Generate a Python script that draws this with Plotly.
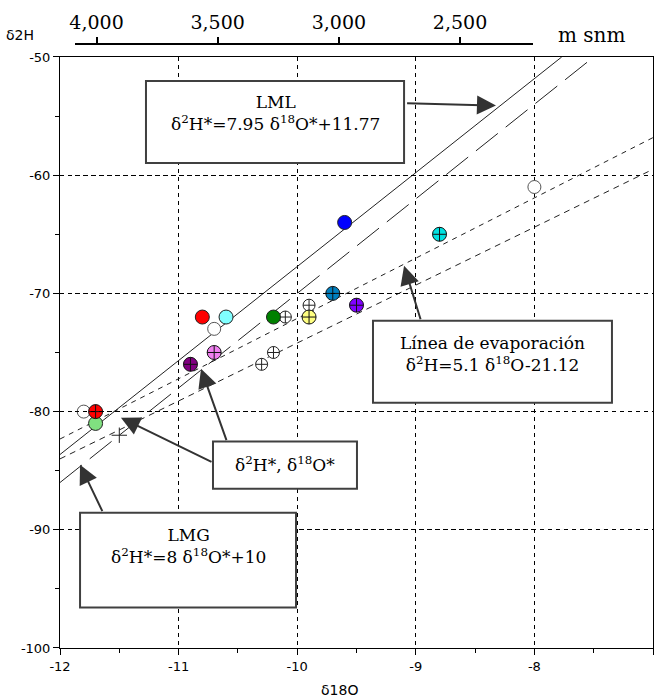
import plotly.graph_objects as go

# ---- axis extents -------------------------------------------------------
X_RANGE = [-12, -7]
Y_RANGE = [-100, -50]
x_ticks = [-12, -11, -10, -9, -8, -7]
y_ticks = [-100, -90, -80, -70, -60, -50]

# ---- altitude scale (top axis, m snm) -------------------------------------
alt_ticks = [4000, 3500, 3000, 2500]
alt_o18_span = [-11.874, -8.013]          # δ18O interval covered by the altitude bar
ALT_REF, ALT_REF_O18, ALT_GRAD = 4000.0, -11.692, -489.4   # m per ‰


def altitude(o18):
    return ALT_REF + ALT_GRAD * (o18 - ALT_REF_O18)


# ---- samples --------------------------------------------------------------
# filled circles
filled_o18 = [-10.8, -10.6, -10.2, -9.6, -11.7]
filled_h2 = [-72, -72, -72, -64, -81]
filled_colors = ["#FF0000", "#80FFFF", "#008000", "#0000FF", "#80E080"]

# filled circles with cross (corrected values δ2H*, δ18O*)
crossed_o18 = [-11.7, -10.9, -10.7, -9.9, -9.7, -9.5, -8.8]
crossed_h2 = [-80, -76, -75, -72, -70, -71, -65]
crossed_colors = ["#FF0000", "#800080", "#F080F0", "#FFFF80", "#0080C0", "#8000FF", "#00E0E0"]

# open circles
open_o18 = [-11.8, -10.7, -8.0]
open_h2 = [-80, -73, -61]

# open circles with cross
open_crossed_o18 = [-10.1, -9.9, -10.3, -10.2]
open_crossed_h2 = [-72, -71, -76, -75]

plus_o18 = [-11.5]
plus_h2 = [-82]

# ---- regression lines: (slope, intercept) ----------------------------------
lml = (7.95, 11.77)      # línea meteórica local
lmg = (8.0, 10.0)        # línea meteórica global
evap = (5.1, -21.12)     # línea de evaporación
star = (4.9, -25.2)      # valores corregidos δ2H*, δ18O*


def line_xy(coef):
    m, b = coef
    x0 = X_RANGE[0]
    x1 = min(X_RANGE[1], (Y_RANGE[1] - b) / m)
    return [x0, x1], [m * x0 + b, m * x1 + b]


fig = go.Figure()

line_styles = [
    (lml, "solid"),
    (lmg, "28px,10px"),
    (evap, "5px,5px"),
    (star, "6px,5px"),
]
for coef, dash in line_styles:
    lx, ly = line_xy(coef)
    fig.add_trace(go.Scatter(x=lx, y=ly, mode="lines",
                             line=dict(color="#222222", width=1, dash=dash),
                             hoverinfo="skip", showlegend=False))

fig.add_trace(go.Scatter(x=open_o18, y=open_h2, mode="markers",
                         marker=dict(symbol="circle", size=13, color="white",
                                     line=dict(color="#555555", width=1)),
                         showlegend=False))
fig.add_trace(go.Scatter(x=open_crossed_o18, y=open_crossed_h2, mode="markers",
                         marker=dict(symbol="circle-cross", size=12, color="white",
                                     line=dict(color="#222222", width=1)),
                         showlegend=False))
fig.add_trace(go.Scatter(x=plus_o18, y=plus_h2, mode="markers",
                         marker=dict(symbol="cross-thin", size=11,
                                     line=dict(color="#222222", width=1)),
                         showlegend=False))
fig.add_trace(go.Scatter(x=filled_o18, y=filled_h2, mode="markers",
                         marker=dict(symbol="circle", size=14, color=filled_colors,
                                     line=dict(color="#222222", width=1)),
                         showlegend=False))
fig.add_trace(go.Scatter(x=crossed_o18, y=crossed_h2, mode="markers",
                         marker=dict(symbol="circle-cross", size=14, color=crossed_colors,
                                     line=dict(color="#111111", width=1)),
                         showlegend=False))

# invisible trace that binds the altitude axis
fig.add_trace(go.Scatter(x=[altitude(alt_o18_span[0])], y=[Y_RANGE[0]],
                         xaxis="x2", yaxis="y", mode="markers",
                         marker=dict(opacity=0), hoverinfo="skip", showlegend=False))

# ---- text boxes -------------------------------------------------------------
BOX = dict(color="#404040", width=2)
boxes = [
    (-11.275, -9.099, -52.03, -58.96),   # LML
    (-9.361, -7.346, -72.32, -79.25),    # evaporación
    (-10.710, -9.496, -82.54, -86.52),   # δ*
    (-11.831, -10.010, -88.55, -96.58),  # LMG
]
for x0, x1, y0, y1 in boxes:
    fig.add_shape(type="rect", xref="x", yref="y", x0=x0, x1=x1, y0=y0, y1=y1,
                  line=BOX, fillcolor="white", layer="above")

serif = dict(family="DejaVu Serif", size=17, color="black")
texts = [
    (-10.187, -54.78, "LML<br>δ<sup>2</sup>H*=7.95 δ<sup>18</sup>O*+11.77"),
    (-8.357, -75.10, "Línea de evaporación<br>δ<sup>2</sup>H=5.1 δ<sup>18</sup>O-21.12"),
    (-10.103, -84.40, "δ<sup>2</sup>H*, δ<sup>18</sup>O*"),
    (-10.920, -91.34, "LMG<br>δ<sup>2</sup>H*=8 δ<sup>18</sup>O*+10"),
]
for tx, ty, t in texts:
    fig.add_annotation(x=tx, y=ty, xref="x", yref="y", text=t, showarrow=False,
                       font=serif, xanchor="center", yanchor="middle")

# arrows: (tail x, tail y, head x, head y)
arrows = [
    (-9.086, -53.90, -8.324, -54.11),
    (-8.956, -72.32, -9.099, -67.67),
    (-10.710, -84.32, -11.486, -80.52),
    (-10.592, -82.54, -10.811, -76.37),
    (-11.637, -88.55, -11.831, -84.49),
]
for ax_, ay_, hx, hy in arrows:
    fig.add_annotation(x=hx, y=hy, ax=ax_, ay=ay_, xref="x", yref="y",
                       axref="x", ayref="y", text="", showarrow=True,
                       arrowhead=2, arrowsize=1.9, arrowwidth=2, arrowcolor="#333333")

# ---- axis titles ---------------------------------------------------------------
sans = dict(family="DejaVu Sans", size=13, color="black")
fig.add_annotation(x=-0.0675, y=1.015, xref="paper", yref="paper", text="δ2H",
                   showarrow=False, xanchor="center", yanchor="middle",
                   font=dict(family="DejaVu Sans", size=14, color="black"))
fig.add_annotation(x=0.472, y=-0.0695, xref="paper", yref="paper", text="δ18O",
                   showarrow=False, xanchor="center", yanchor="middle",
                   font=dict(family="DejaVu Sans", size=14, color="black"))
fig.add_annotation(x=0.897, y=1.015, xref="paper", yref="paper", text="m snm",
                   showarrow=False, xanchor="center", yanchor="middle",
                   font=dict(family="DejaVu Serif", size=20, color="black"))

grid = dict(showgrid=True, gridcolor="#000000", gridwidth=1, griddash="4px,4px")

fig.update_layout(
    width=658, height=700, autosize=False,
    margin=dict(l=60, r=5, t=44, b=52),
    plot_bgcolor="rgba(0,0,0,0)", paper_bgcolor="white",
    showlegend=False,
    xaxis=dict(range=X_RANGE, tickvals=x_ticks, ticktext=[str(v) for v in x_ticks],
               ticks="outside", ticklen=6, tickcolor="black", tickfont=sans,
               minor=dict(dtick=0.5, tick0=-12, ticks="outside", ticklen=4,
                          tickcolor="black", showgrid=False),
               showline=True, linecolor="black", linewidth=1, mirror=True,
               zeroline=False, **grid),
    yaxis=dict(range=Y_RANGE, domain=[0, 0.9785], tickvals=y_ticks,
               ticktext=[str(v) for v in y_ticks],
               ticks="outside", ticklen=6, tickcolor="black", tickfont=sans,
               minor=dict(dtick=5, tick0=-100, ticks="outside", ticklen=4,
                          tickcolor="black", showgrid=False),
               showline=True, linecolor="black", linewidth=1, mirror=True,
               zeroline=False, **grid),
    xaxis2=dict(anchor="free", position=1, side="top",
                domain=[(alt_o18_span[0] - X_RANGE[0]) / 5, (alt_o18_span[1] - X_RANGE[0]) / 5],
                range=[altitude(alt_o18_span[0]), altitude(alt_o18_span[1])],
                tickvals=alt_ticks, ticktext=[f"{v:,}" for v in alt_ticks],
                ticks="outside", ticklen=6, tickwidth=2, tickcolor="black",
                tickfont=dict(family="DejaVu Serif", size=19, color="black"),
                showline=True, linecolor="black", linewidth=2,
                showgrid=False, zeroline=False),
)

fig.write_html("out.html")
